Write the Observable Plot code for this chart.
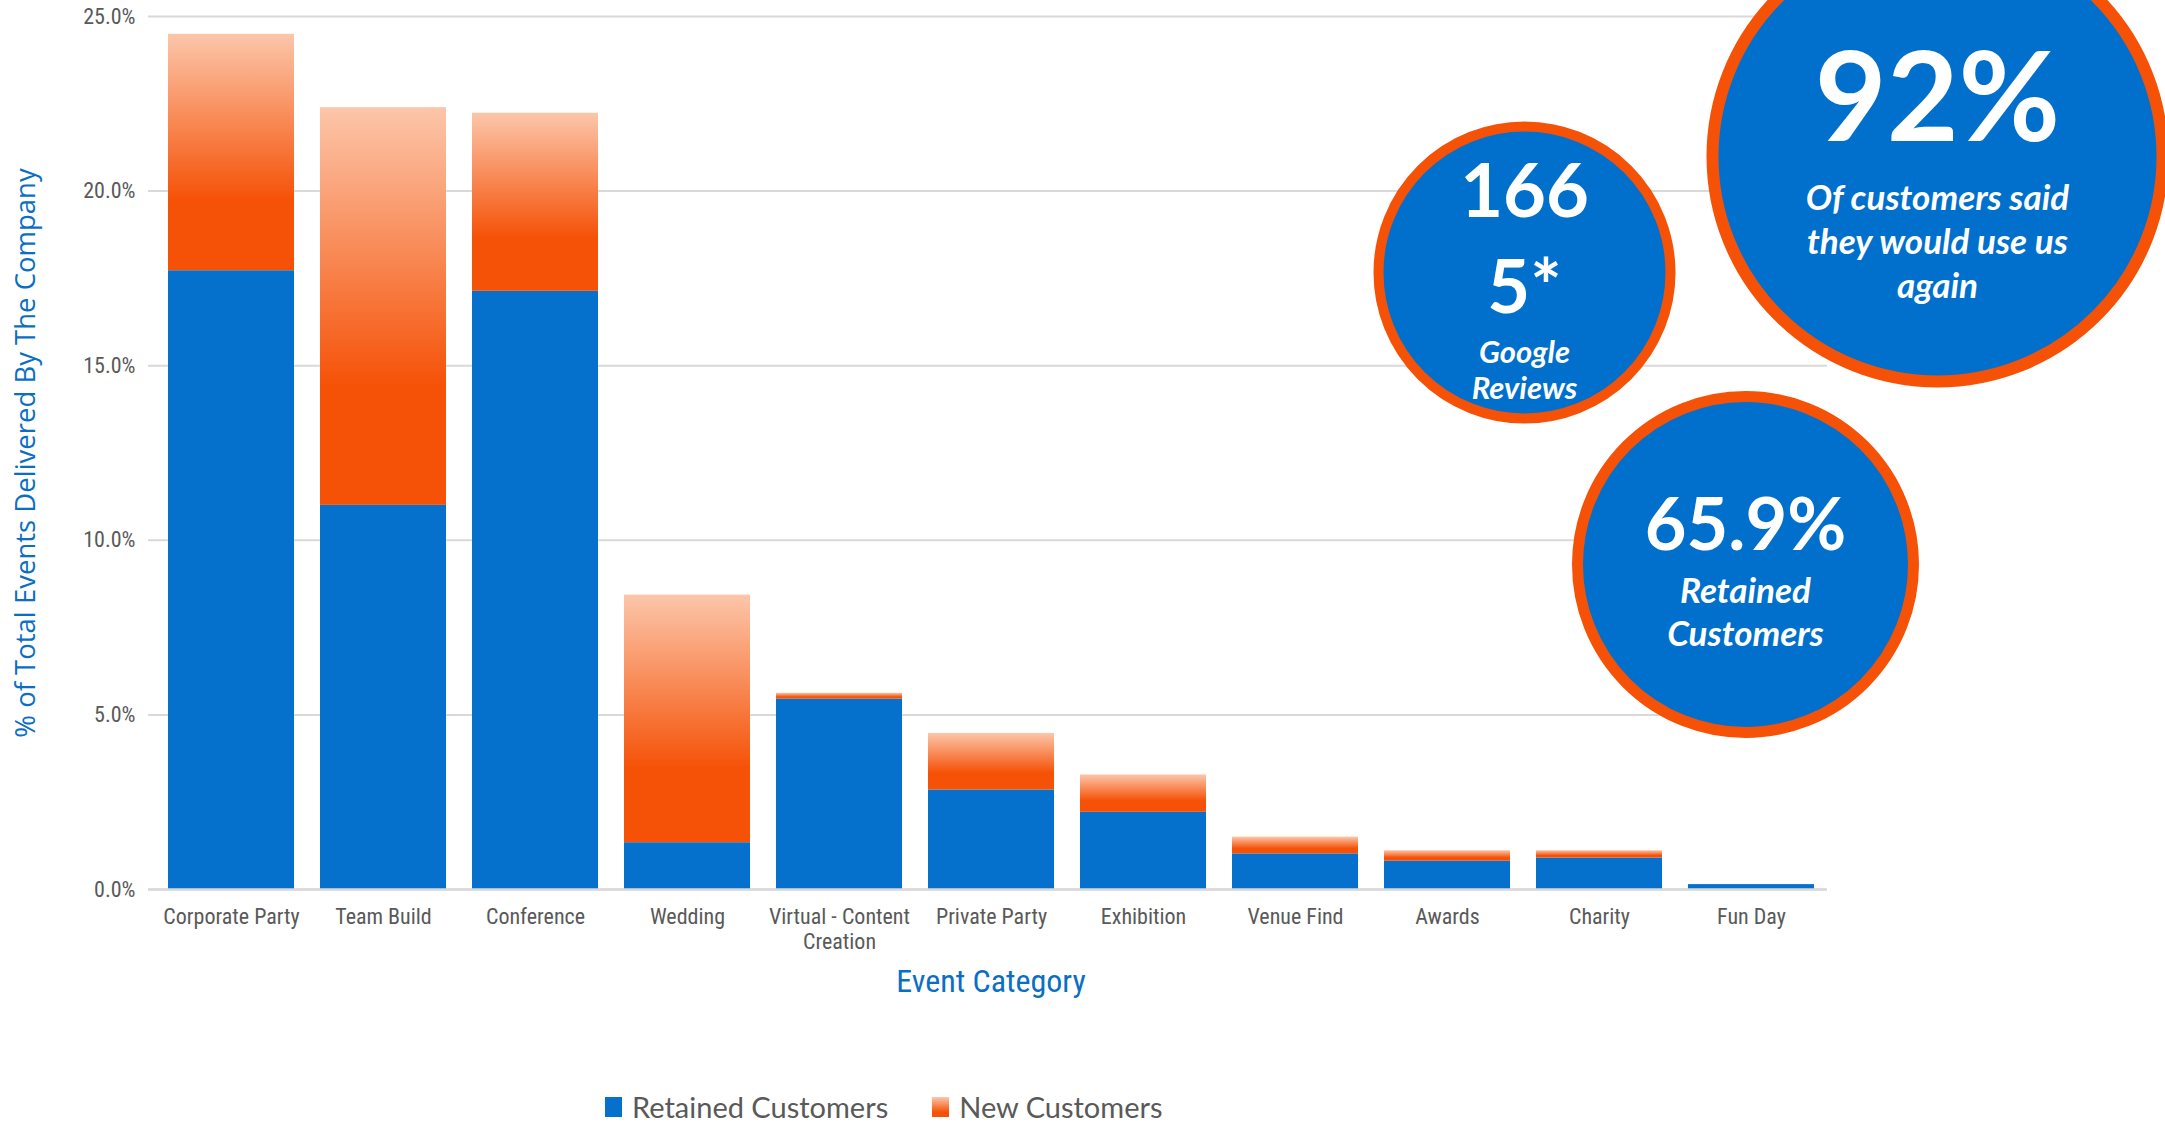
<!DOCTYPE html>
<html><head><meta charset="utf-8">
<script src="https://cdn.jsdelivr.net/npm/d3@7"></script>
<script src="https://cdn.jsdelivr.net/npm/@observablehq/plot@0.6"></script>
<style>
html,body{margin:0;padding:0;background:#fff;}
body{width:2165px;height:1125px;overflow:hidden;position:relative;}
#legend{position:absolute;left:605px;top:1089px;height:36px;line-height:36px;display:flex;align-items:center;font-family:Lato,"Open Sans",sans-serif;font-size:29px;color:#595959;}
#legend .item{display:flex;align-items:center;margin-right:44px;}
#legend .sw{width:17px;height:20px;margin-right:10px;}
</style></head><body>
<div id="chart"></div>
<div id="legend"></div>
<script>
// ---- data ----
const categories = ["Corporate Party","Team Build","Conference","Wedding","Virtual - Content Creation","Private Party","Exhibition","Venue Find","Awards","Charity","Fun Day"];
const retainedCustomers = [17.72, 11.00, 17.13, 1.34, 5.45, 2.85, 2.21, 1.02, 0.81, 0.90, 0.14];
const newCustomers = [6.77, 11.39, 5.10, 7.09, 0.17, 1.62, 1.07, 0.48, 0.30, 0.21, 0.00];
const yTicks = [0, 5, 10, 15, 20, 25];
const seriesNames = ["Retained Customers", "New Customers"];
const yTitle = "% of Total Events Delivered By The Company";
const xTitle = "Event Category";
const stat92 = ["92%"];
const stat92Caption = ["Of customers said\nthey would use us\nagain"];
const statReviews = ["166\n5*"];
const statReviewsCaption = ["Google\nReviews"];
const statRetained = ["65.9%"];
const statRetainedCaption = ["Retained\nCustomers"];

// ---- styles ----
const BLUE = "#0571CD";
const ORANGE = "#F55208";
const PEACH = "#FCC6AA";
const AXIS_BLUE = "#0A6FC4";
const GREY = "#595959";
const NARROW = "'Liberation Sans Narrow','Arial Narrow','Roboto Condensed',Roboto,sans-serif";
const CIRC = "Lato,'Open Sans',sans-serif";

const rows = categories.map((c, i) => ({
  category: c,
  retained: retainedCustomers[i],
  fresh: newCustomers[i],
  total: retainedCustomers[i] + newCustomers[i]
}));

const defs = () => {
  const d = d3.create("svg:defs");
  const g = d.append("linearGradient").attr("id", "newGrad")
    .attr("x1", 0).attr("y1", 0).attr("x2", 0).attr("y2", 1);
  g.append("stop").attr("offset", "0%").attr("stop-color", PEACH);
  g.append("stop").attr("offset", "70%").attr("stop-color", ORANGE);
  g.append("stop").attr("offset", "100%").attr("stop-color", ORANGE);
  return d.node();
};

const circleMarks = (cx, cy, r, sw) => Plot.dot([0], {
  frameAnchor: "top-left", dx: cx - 148, dy: cy - 16, r,
  fill: "#0070CC", stroke: ORANGE, strokeWidth: sw
});
const circText = (arr, cx, cy, size, opts = {}) => Plot.text(arr, {
  text: d => d, frameAnchor: "top-left", dx: cx - 148, dy: cy - 16,
  fill: "white", fontSize: size, fontWeight: "bold", fontFamily: CIRC,
  textAnchor: "middle", lineAnchor: "middle", ...opts
});

const plot = Plot.plot({
  width: 2165, height: 1040,
  marginLeft: 148, marginRight: 338, marginTop: 16, marginBottom: 151,
  style: {background: "transparent", overflow: "visible"},
  x: {domain: categories, paddingInner: 0.1716, paddingOuter: 0.105, align: 0.6, label: null},
  y: {domain: [0, 25], label: null},
  marks: [
    defs,
    Plot.gridY(yTicks, {stroke: "#D9D9D9", strokeOpacity: 1, strokeWidth: 2}),
    Plot.barY(rows, {x: "category", y1: 0, y2: "retained", fill: BLUE}),
    Plot.barY(rows.filter(d => d.fresh > 0), {x: "category", y1: "retained", y2: "total", fill: "url(#newGrad)"}),
    Plot.ruleY([0], {stroke: "#D9D9D9", strokeWidth: 2.5}),
    Plot.axisY({ticks: yTicks, tickFormat: d => d.toFixed(1) + "%", tickSize: 0, tickPadding: 13,
      fontSize: 22, fill: GREY, label: null, fontFamily: NARROW}),
    Plot.axisX({tickSize: 0, tickPadding: 17, fontSize: 22, fill: GREY, label: null, fontFamily: NARROW,
      lineHeight: 1.14, tickFormat: d => d === "Virtual - Content Creation" ? "Virtual - Content\nCreation" : d}),
    Plot.text([yTitle], {text: d => d, frameAnchor: "left", dx: -122, rotate: -90,
      fontSize: 27.5, fill: AXIS_BLUE, fontFamily: "'Open Sans',sans-serif", textAnchor: "middle"}),
    Plot.text([xTitle], {text: d => d, frameAnchor: "bottom", dx: 3, dy: 102,
      fontSize: 32, fill: AXIS_BLUE, fontFamily: NARROW, textAnchor: "middle"}),
    // stat circles
    circleMarks(1937, 156, 225, 12),
    circText(stat92, 1937, 101, 124),
    circText(stat92Caption, 1937, 239, 35, {fontStyle: "italic", lineHeight: 1.26}),
    circleMarks(1524, 272, 146, 10),
    circText(statReviews, 1524, 234, 74, {lineHeight: 1.3}),
    circText(statReviewsCaption, 1524, 369, 31, {fontStyle: "italic", lineHeight: 1.16}),
    circleMarks(1745, 564, 168, 11),
    circText(statRetained, 1745, 526, 72),
    circText(statRetainedCaption, 1745, 610, 35, {fontStyle: "italic", lineHeight: 1.23})
  ]
});
document.getElementById("chart").appendChild(plot);

// legend
const legend = document.getElementById("legend");
const swatches = [BLUE, `linear-gradient(to bottom, ${PEACH}, ${ORANGE} 75%)`];
seriesNames.forEach((name, i) => {
  const item = document.createElement("div");
  item.className = "item";
  const sw = document.createElement("div");
  sw.className = "sw";
  sw.style.background = swatches[i];
  const label = document.createElement("span");
  label.textContent = name;
  item.appendChild(sw); item.appendChild(label);
  legend.appendChild(item);
});
</script>
</body></html>
